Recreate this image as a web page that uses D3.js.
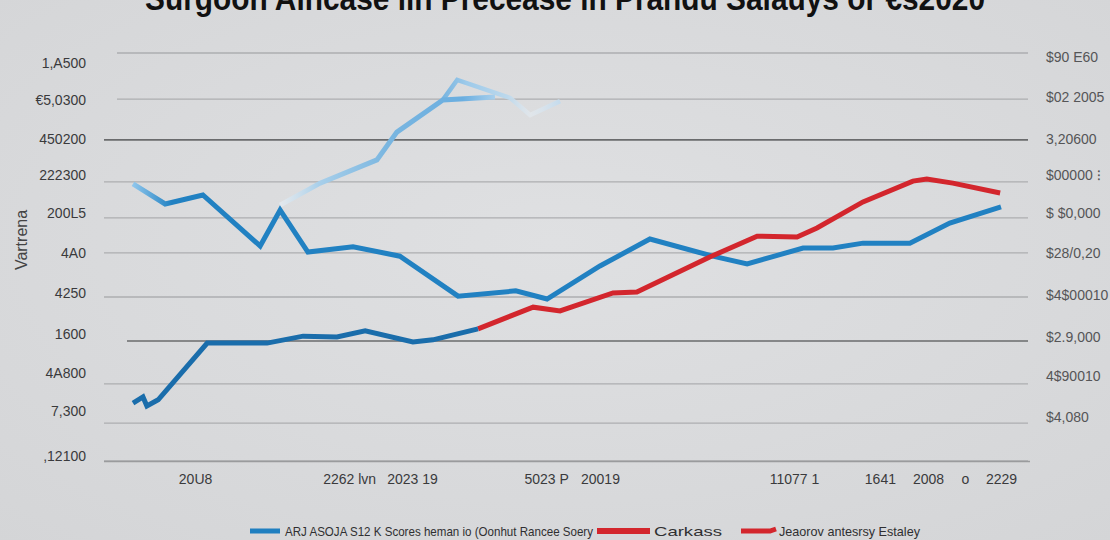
<!DOCTYPE html>
<html><head><meta charset="utf-8">
<script src="https://cdn.jsdelivr.net/npm/d3@7"></script>
<style>
html,body{margin:0;padding:0;background:#dadbdd;}
svg{display:block;}
</style></head>
<body>
<svg id="chart" width="1110" height="540"></svg>
<script>
// ---------- DATA ----------
const titleText = "Surgoon Aincase iin Precease  in Prandu Salauys or €s2020";
const yAxisTitle = "Vartrena";

const gridValues = [0, 9.3, 18.9, 29.4, 40.2, 51.0, 59.6, 68.4, 78.7, 88.7, 100];
const darkGridValues = [29.4, 78.7];

const leftTickValues = [97.5, 88.5, 78.9, 70.1, 60.8, 51.0, 41.2, 31.1, 21.6, 12.3, 1.2];
const leftTickLabels = ["1,A500", "€5,0300", "450200", "222300", "200L5", "4A0", "4250", "1600", "4A800", "7,300", ",12100"];

const rightTickValues = [99.0, 89.2, 78.9, 70.1, 60.8, 51.0, 40.7, 30.4, 20.8, 10.8];
const rightTickLabels = ["$90 E60", "$02 2005", "3,20600", "$00000 ⁝", "$ $0,000", "$28/0,20", "$4$00010", "$2.9,000", "4$90010", "$4,080"];

const xTickValues = [2009.43, 2012.98, 2014.43, 2017.52, 2018.76, 2023.23, 2025.21, 2026.32, 2027.17, 2028.0];
const xTickLabels = ["20U8", "2262 lvn", "2023 19", "5023 P", "20019", "11077 1", "1641", "2008", "o", "2229"];

// main blue series
const seriesMainYears  = [2008.00, 2008.74, 2009.61, 2010.93, 2011.39, 2012.03, 2013.07, 2014.15, 2015.49, 2016.82, 2017.54, 2018.76, 2019.91, 2021.36, 2022.15, 2023.44, 2024.13, 2024.82, 2025.90, 2026.82, 2028.00];
const seriesMainValues = [67.9, 63.0, 65.2, 52.7, 61.5, 51.2, 52.5, 50.2, 40.4, 41.7, 39.7, 47.8, 54.4, 50.2, 48.3, 52.2, 52.2, 53.4, 53.4, 58.3, 62.3];

// faded light-blue rising series
const seriesGhostYears  = [2011.39, 2012.31, 2013.62, 2014.08, 2015.14, 2016.34];
const seriesGhostValues = [62.7, 68.1, 73.8, 80.6, 88.5, 89.2];
const seriesGhost2Years  = [2015.14, 2015.47, 2016.69, 2017.15, 2017.84];
const seriesGhost2Values = [88.5, 93.4, 89.0, 84.8, 88.2];

// lower dark-blue series
const seriesLowerYears  = [2008.00, 2008.23, 2008.32, 2008.58, 2009.71, 2011.09, 2011.92, 2012.70, 2013.35, 2014.45, 2014.91, 2015.95];
const seriesLowerValues = [14.2, 15.7, 13.5, 15.0, 28.9, 28.9, 30.6, 30.4, 31.9, 29.2, 29.7, 32.4];

// red series
const seriesRedYears  = [2015.95, 2017.22, 2017.84, 2019.06, 2019.61, 2021.29, 2022.38, 2023.30, 2023.76, 2024.82, 2025.97, 2026.29, 2026.89, 2027.98];
const seriesRedValues = [32.4, 37.7, 36.8, 41.2, 41.4, 50.0, 55.1, 54.9, 57.1, 63.5, 68.6, 69.1, 68.1, 65.7];

const legendLabels = ["ARJ ASOJA S12 K Scores heman io (Oonhut Rancee Soery", "Carkass", "Jeaorov antesrsy Estaley"];

// ---------- DRAW ----------
const svg = d3.select("#chart");
const W = 1110, H = 540;
const defs = svg.append("defs");

const bg = defs.append("radialGradient").attr("id","bg").attr("cx","50%").attr("cy","45%").attr("r","75%");
bg.append("stop").attr("offset","0%").attr("stop-color","#dfe0e2");
bg.append("stop").attr("offset","100%").attr("stop-color","#d4d5d7");
svg.append("rect").attr("width",W).attr("height",H).attr("fill","url(#bg)");

const x = d3.scaleLinear().domain([2008, 2028]).range([133, 1001]);
const y = d3.scaleLinear().domain([0, 100]).range([461, 53]);

// gridlines
svg.append("g").selectAll("line").data(gridValues).join("line")
  .attr("x1", (d,i) => i >= 9 ? 117 : (darkGridValues.includes(d) && d < 50 ? 127 : 104))
  .attr("x2", 1028)
  .attr("y1", d => y(d)).attr("y2", d => y(d))
  .attr("stroke", d => darkGridValues.includes(d) ? "#6a6b6d" : "#adaeb0")
  .attr("stroke-width", d => darkGridValues.includes(d) ? 1.6 : 1.3);

// axes
const fontFam = "'Liberation Sans', Arial, sans-serif";
const leftAxis = svg.append("g").attr("transform","translate(86,0)")
  .call(d3.axisLeft(y).tickValues(leftTickValues).tickFormat((d,i)=>leftTickLabels[i]).tickSize(0).tickPadding(0));
leftAxis.select(".domain").remove();
leftAxis.selectAll("text").attr("font-family",fontFam).attr("font-size",14).attr("fill","#3a3a3c");

const rightAxis = svg.append("g").attr("transform","translate(1046,0)")
  .call(d3.axisRight(y).tickValues(rightTickValues).tickFormat((d,i)=>rightTickLabels[i]).tickSize(0).tickPadding(0));
rightAxis.select(".domain").remove();
rightAxis.selectAll("text").attr("font-family",fontFam).attr("font-size",14).attr("fill","#555557");

const bottomAxis = svg.append("g").attr("transform","translate(0,461)")
  .call(d3.axisBottom(x).tickValues(xTickValues).tickFormat((d,i)=>xTickLabels[i]).tickSize(0).tickPadding(13));
bottomAxis.select(".domain").attr("stroke","#9a9b9d").attr("stroke-width",1.4).attr("d","M104,0.5H1030");
bottomAxis.selectAll("text").attr("font-family",fontFam).attr("font-size",14).attr("fill","#3a3a3c");

// y axis title
svg.append("text").attr("transform","translate(27,240) rotate(-90)")
  .attr("text-anchor","middle").attr("font-family",fontFam).attr("font-size",16).attr("fill","#444")
  .text(yAxisTitle);

// title (clipped at top, as in the reference)
svg.append("text").attr("x",565).attr("y",10).attr("text-anchor","middle")
  .attr("font-family",fontFam).attr("font-weight","bold").attr("font-size",34).attr("fill","#111")
  .attr("textLength",840).attr("lengthAdjust","spacingAndGlyphs")
  .text(titleText);

// gradients for lines
function lg(id, x1, x2, stops){
  const g = defs.append("linearGradient").attr("id",id).attr("gradientUnits","userSpaceOnUse")
    .attr("x1",x1).attr("x2",x2).attr("y1",0).attr("y2",0);
  stops.forEach(s => g.append("stop").attr("offset",s[0]).attr("stop-color",s[1]).attr("stop-opacity", s[2]===undefined?1:s[2]));
}
lg("gMain", x(2008), x(2008.9), [[0,"#8fc6ec"],[1,"#2181c2"]]);
lg("gGhost", x(2011.39), x(2016.34), [[0,"#e6edf3",0.7],[0.18,"#a8cfea"],[0.5,"#7ab6e0"],[0.85,"#6aaee0"],[1,"#a8cfec"]]);
lg("gGhost2", x(2015.14), x(2017.84), [[0,"#79b5e0"],[0.2,"#9dcaea"],[0.55,"#bcd8ec"],[0.75,"#e4ebf1",0.6],[1,"#c4dbed"]]);

const line = d3.line().x(d => x(d[0])).y(d => y(d[1]));
const zip = (a,b) => a.map((v,i)=>[v,b[i]]);

const plot = svg.append("g").attr("fill","none").attr("stroke-linejoin","miter").attr("stroke-miterlimit",3);

plot.append("path").attr("d", line(zip(seriesGhost2Years, seriesGhost2Values)))
  .attr("stroke","url(#gGhost2)").attr("stroke-width",4.5);
plot.append("path").attr("d", line(zip(seriesGhostYears, seriesGhostValues)))
  .attr("stroke","url(#gGhost)").attr("stroke-width",5);
plot.append("path").attr("d", line(zip(seriesMainYears, seriesMainValues)))
  .attr("stroke","url(#gMain)").attr("stroke-width",5);
plot.append("path").attr("d", line(zip(seriesRedYears, seriesRedValues)))
  .attr("stroke","#d3262d").attr("stroke-width",5);
plot.append("path").attr("d", line(zip(seriesLowerYears, seriesLowerValues)))
  .attr("stroke","#1a6dab").attr("stroke-width",5);

// legend
const lgY = 531;
const leg = svg.append("g").attr("font-family",fontFam).attr("font-size",13).attr("fill","#2f2f31");
leg.append("line").attr("x1",250).attr("x2",280).attr("y1",lgY).attr("y2",lgY).attr("stroke","#1f7fc0").attr("stroke-width",5);
leg.append("text").attr("x",285).attr("y",lgY+4.5).attr("textLength",308).attr("lengthAdjust","spacingAndGlyphs").text(legendLabels[0]);
leg.append("line").attr("x1",597).attr("x2",650).attr("y1",lgY).attr("y2",lgY).attr("stroke","#d3262d").attr("stroke-width",6);
leg.append("text").attr("x",654).attr("y",lgY+4.5).attr("textLength",68).attr("lengthAdjust","spacingAndGlyphs").text(legendLabels[1]);
leg.append("path").attr("d","M741,531L770,531L776,529").attr("fill","none").attr("stroke","#d3262d").attr("stroke-width",5);
leg.append("text").attr("x",779).attr("y",lgY+4.5).attr("textLength",141).attr("lengthAdjust","spacingAndGlyphs").text(legendLabels[2]);
</script>
</body></html>
